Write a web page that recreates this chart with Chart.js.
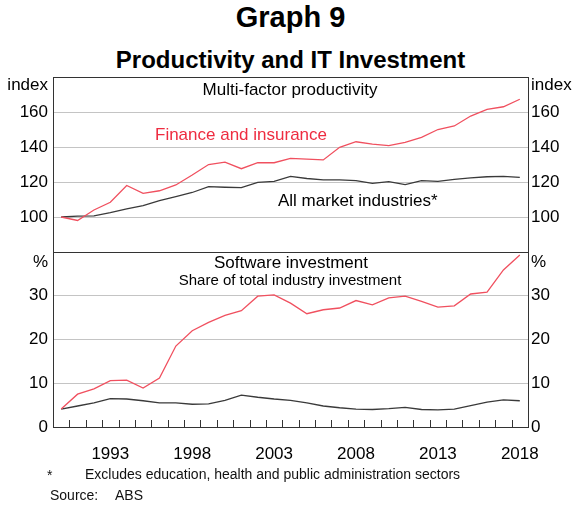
<!DOCTYPE html>
<html>
<head>
<meta charset="utf-8">
<script src="https://cdn.jsdelivr.net/npm/chart.js@4.4.0/dist/chart.umd.min.js"></script>
<style>
    body { margin: 0; background: #fff; font-family: "Liberation Sans", Arial, sans-serif; color: #000; }
    #wrap { position: relative; width: 573px; height: 506px; overflow: hidden; }
    #wrap canvas { position: absolute; left: 0; top: 0; }
    .t { position: absolute; white-space: nowrap; line-height: 1; }
    .title { left: 4px; width: 573px; text-align: center; font-weight: bold; }
    .note { font-size: 14px; color: #111; }
</style>
</head>
<body>
<div id="wrap">
    <div class="t title" style="top:3px; font-size:29px;">Graph 9</div>
    <div class="t title" style="top:48px; font-size:24px;">Productivity and IT Investment</div>
    <canvas id="topChart" width="573" height="506"></canvas>
    <canvas id="bottomChart" width="573" height="506"></canvas>
    <div class="t note" style="left:47px; top:468px;">*</div>
    <div class="t note" style="left:85px; top:467px;">Excludes education, health and public administration sectors</div>
    <div class="t note" style="left:50px; top:488px;">Source:</div>
    <div class="t note" style="left:115px; top:488px;">ABS</div>
</div>
<script>
// Categories (financial years)
const years = ['1990', '1991', '1992', '1993', '1994', '1995', '1996', '1997', '1998', '1999',
    '2000', '2001', '2002', '2003', '2004', '2005', '2006', '2007', '2008', '2009',
    '2010', '2011', '2012', '2013', '2014', '2015', '2016', '2017', '2018'];
const xTickLabels = ['1993', '1998', '2003', '2008', '2013', '2018'];

// Multi-factor productivity, index
const mfpFinance = [100, 98, 104, 108.4, 118, 113.5, 115, 118.3, 124, 130,
    131.4, 127.6, 131, 131, 133.5, 133.1, 132.6, 139.8, 143, 141.7,
    140.8, 142.7, 145.5, 150, 152, 157.7, 161.5, 163, 167.3];
const mfpAll = [100, 100.5, 100.7, 102.5, 104.6, 106.5, 109.3, 111.6, 114, 117.3,
    117, 116.8, 119.8, 120.4, 123.2, 122, 121.2, 121.2, 120.8, 119.2,
    120.2, 118.5, 120.8, 120.4, 121.5, 122.3, 123, 123.2, 122.6];

// Software investment, share of total industry investment (%)
const swFinance = [4.1, 7.5, 8.7, 10.6, 10.7, 8.9, 11.2, 18.5, 22, 23.9,
    25.5, 26.6, 29.9, 30.2, 28.3, 25.9, 26.8, 27.2, 28.9, 27.9,
    29.5, 29.9, 28.7, 27.4, 27.7, 30.4, 30.8, 35.9, 39.3];
const swAll = [4.1, 4.8, 5.5, 6.5, 6.4, 6.0, 5.5, 5.5, 5.2, 5.3,
    6.1, 7.3, 6.8, 6.4, 6.1, 5.5, 4.8, 4.4, 4.1, 4.0,
    4.2, 4.5, 4.0, 3.9, 4.1, 4.9, 5.7, 6.2, 6.0];

const topTicks = { min: 80, max: 180, step: 20 };
const bottomTicks = { min: 0, max: 40, step: 10 };

const FONT = '"Liberation Sans", Arial, sans-serif';
const RED = '#f0505f';
const RED_TEXT = '#ee2c40';
const DARK = '#3a3a3a';
const GRID = '#c4c4c4';

// frame, inward x ticks and panel labels
const panelPlugin = {
    id: 'panel',
    afterDraw(chart, args, opts) {
        const { ctx, chartArea: a } = chart;
        ctx.save();
        ctx.strokeStyle = '#333';
        ctx.lineWidth = 1;
        ctx.strokeRect(a.left + 0.5, a.top + 0.5, a.right - a.left, a.bottom - a.top);

        if (opts.xTicks) {
            const xs = chart.scales.x;
            const band = xs.getPixelForValue(1) - xs.getPixelForValue(0);
            ctx.beginPath();
            for (let i = 0; i <= years.length; i++) {
                const x = Math.round(xs.getPixelForValue(i) - band / 2) + 0.5;
                ctx.moveTo(x, a.bottom);
                ctx.lineTo(x, a.bottom - 7);
            }
            ctx.stroke();
        }

        (opts.labels || []).forEach(l => {
            ctx.font = `${l.size || 17}px ${FONT}`;
            ctx.fillStyle = l.color || '#000';
            ctx.textAlign = l.align || 'left';
            ctx.textBaseline = 'middle';
            ctx.fillText(l.text, l.x, l.y);
        });
        ctx.restore();
    }
};

function yAxis(range, position, width) {
    return {
        type: 'linear',
        position: position,
        min: range.min,
        max: range.max,
        afterFit: (scale) => { scale.width = width; },
        border: { display: false },
        grid: {
            display: position === 'left',
            drawTicks: false,
            color: (c) => (c.tick.value === range.min || c.tick.value === range.max) ? 'rgba(0,0,0,0)' : GRID
        },
        ticks: {
            stepSize: range.step,
            padding: position === 'left' ? 5 : 3,
            color: '#000',
            font: { family: FONT, size: 17 },
            callback: (v) => (v === range.min && range.min !== 0) || v === range.max ? '' : v
        }
    };
}

function line(data, color) {
    return {
        data: data,
        borderColor: color,
        borderWidth: 1.3,
        pointRadius: 0,
        fill: false,
        tension: 0
    };
}

new Chart(document.getElementById('topChart'), {
    type: 'line',
    data: {
        labels: years,
        datasets: [line(mfpFinance, RED), line(mfpAll, DARK)]
    },
    options: {
        responsive: false,
        animation: false,
        layout: { padding: { top: 77, bottom: 254, left: 0, right: 0 } },
        plugins: {
            legend: { display: false },
            tooltip: { enabled: false },
            panel: {
                labels: [
                    { text: 'index', x: 48, y: 85, align: 'right' },
                    { text: 'index', x: 531, y: 85, align: 'left' },
                    { text: 'Multi-factor productivity', x: 290, y: 90, align: 'center' },
                    { text: 'Finance and insurance', x: 155, y: 135, align: 'left', color: RED_TEXT },
                    { text: 'All market industries*', x: 278, y: 201, align: 'left' }
                ]
            }
        },
        scales: {
            x: { type: 'category', offset: true, display: false },
            y: yAxis(topTicks, 'left', 53),
            y2: yAxis(topTicks, 'right', 45)
        }
    },
    plugins: [panelPlugin]
});

new Chart(document.getElementById('bottomChart'), {
    type: 'line',
    data: {
        labels: years,
        datasets: [line(swFinance, RED), line(swAll, DARK)]
    },
    options: {
        responsive: false,
        animation: false,
        layout: { padding: { top: 252, bottom: 46, left: 0, right: 0 } },
        plugins: {
            legend: { display: false },
            tooltip: { enabled: false },
            panel: {
                xTicks: true,
                labels: [
                    { text: '%', x: 48, y: 262, align: 'right' },
                    { text: '%', x: 531, y: 262, align: 'left' },
                    { text: 'Software investment', x: 291, y: 263, align: 'center' },
                    { text: 'Share of total industry investment', x: 290, y: 281, align: 'center', size: 15 }
                ]
            }
        },
        scales: {
            x: {
                type: 'category',
                offset: true,
                afterFit: (scale) => { scale.height = 33; },
                border: { display: false },
                grid: { display: false },
                ticks: {
                    autoSkip: false,
                    maxRotation: 0,
                    padding: 9,
                    color: '#000',
                    font: { family: FONT, size: 17 },
                    callback: function (v, i) {
                        const lab = this.getLabelForValue(v);
                        return xTickLabels.includes(lab) ? lab : '';
                    }
                }
            },
            y: yAxis(bottomTicks, 'left', 53),
            y2: yAxis(bottomTicks, 'right', 45)
        }
    },
    plugins: [panelPlugin]
});
</script>
</body>
</html>
